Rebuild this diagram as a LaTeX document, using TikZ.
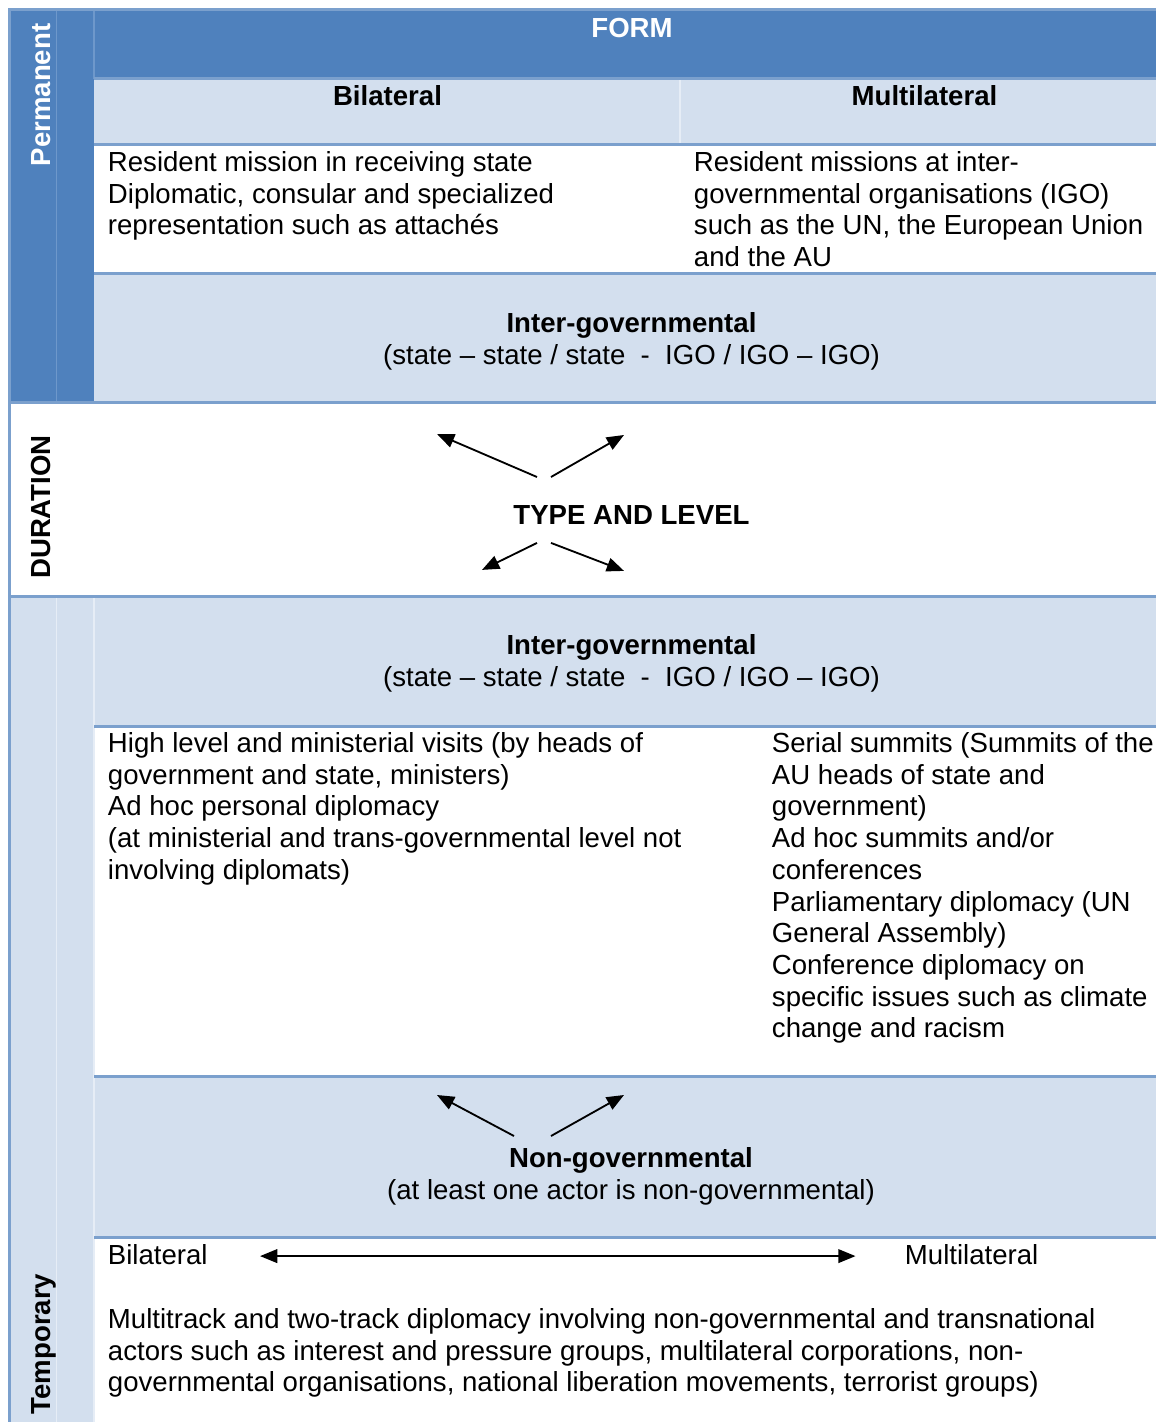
\documentclass[tikz,border=0pt]{standalone}
\usepackage{fontspec}
\setmainfont{Liberation Sans}
\usepackage{xcolor}
\usetikzlibrary{arrows.meta}

\definecolor{hdblue}{HTML}{4F81BD}
\definecolor{rowblue}{HTML}{D3DFEE}
\definecolor{rulblue}{HTML}{7BA0CD}
\definecolor{sepdark}{HTML}{6E98CB}
\definecolor{seplight}{HTML}{E6EDF6}

\tikzset{
  txt/.style={inner sep=0pt, font=\fontsize{12}{13.8}\selectfont, align=left, anchor=north west},
  ctr/.style={inner sep=0pt, font=\fontsize{12}{13.8}\selectfont, align=center, anchor=north},
  side/.style={inner sep=0pt, font=\fontsize{12}{13.8}\selectfont\bfseries, rotate=90, anchor=base},
  rule/.style={draw=rulblue, line width=1.3pt},
}

\begin{document}
\begin{tikzpicture}[x=0.435pt, y=-0.435pt, >={Triangle[length=7.5pt,width=6pt]}]
  \useasboundingbox (0,0) rectangle (1156,1422);

  % cells
  \fill[hdblue] (9.5,9.5) rectangle (94,402.5);
  \fill[hdblue] (94,9.5) rectangle (1156,78.5);
  \fill[rowblue] (94,78.5) rectangle (1156,144.5);
  \fill[rowblue] (94,273.5) rectangle (1156,402.5);
  \fill[rowblue] (9.5,596) rectangle (94,1422);
  \fill[rowblue] (94,596) rectangle (1156,726);
  \fill[rowblue] (94,1076.5) rectangle (1156,1237);

  \draw[sepdark, line width=.45pt] (56.5,9.5) -- (56.5,402.5);
  \draw[sepdark, line width=.45pt] (94,9.5) -- (94,78.5);
  \draw[seplight, line width=.45pt] (680,78.5) -- (680,144.5);
  \draw[seplight, line width=.45pt] (56.5,596) -- (56.5,1422);
  \draw[seplight, line width=.45pt] (94,596) -- (94,1422);

  \draw[rule] (8,9.5) -- (1156,9.5);
  \draw[rule] (9.5,8) -- (9.5,1422);
  \draw[rule] (94,78.5) -- (1156,78.5);
  \draw[rule] (94,144.5) -- (1156,144.5);
  \draw[rule] (94,273.5) -- (1156,273.5);
  \draw[rule] (8,402.5) -- (1156,402.5);
  \draw[rule] (8,596) -- (1156,596);
  \draw[rule] (94,726) -- (1156,726);
  \draw[rule] (94,1076.5) -- (1156,1076.5);
  \draw[rule] (94,1237) -- (1156,1237);

  % side labels
  \node (pm) [side, text=white] at (51,95) {Permanent};
  \node (du) [side] at (51,507) {DURATION};
  \node (tp) [side] at (51,1344) {Temporary};

  % permanent part
  \node (fm) [ctr, text=white, font=\fontsize{12}{13.8}\selectfont\bfseries] at (632,17.5) {FORM};
  \node (bl) [ctr, font=\fontsize{12}{13.8}\selectfont\bfseries] at (387.5,85) {Bilateral};
  \node (ml) [ctr, font=\fontsize{12}{13.8}\selectfont\bfseries] at (924.5,85) {Multilateral};
  \node (rb) [txt] at (107.5,151) {Resident mission in receiving state\\
    Diplomatic, consular and specialized\\
    representation such as attachés};
  \node (rm) [txt] at (693.5,151) {Resident missions at inter-\\
    governmental organisations (IGO)\\
    such as the UN, the European Union\\
    and the AU};
  \node (pg) [ctr] at (631.5,312) {\textbf{Inter-governmental}\\
    (state – state / state \ - \ IGO / IGO – IGO)};

  \node (tl) [ctr, font=\fontsize{12}{13.8}\selectfont\bfseries] at (631.5,505) {TYPE AND LEVEL};

  % temporary part
  \node (tg) [ctr] at (631.5,634) {\textbf{Inter-governmental}\\
    (state – state / state \ - \ IGO / IGO – IGO)};
  \node (hb) [txt] at (107.5,732) {High level and ministerial visits (by heads of\\
    government and state, ministers)\\
    Ad hoc personal diplomacy\\
    (at ministerial and trans-governmental level not\\
    involving diplomats)};
  \node (hm) [txt] at (771.5,732) {Serial summits (Summits of the\\
    AU heads of state and\\
    government)\\
    Ad hoc summits and/or\\
    conferences\\
    Parliamentary diplomacy (UN\\
    General Assembly)\\
    Conference diplomacy on\\
    specific issues such as climate\\
    change and racism};
  \node (ng) [ctr] at (631,1147) {\textbf{Non-governmental}\\
    (at least one actor is non-governmental)};
  \node (bb) [txt] at (107.5,1244) {Bilateral};
  \node (bm) [txt] at (904.5,1244) {Multilateral};
  \node (mt) [txt] at (107.5,1308) {Multitrack and two-track diplomacy involving non-governmental and transnational\\
    actors such as interest and pressure groups, multilateral corporations, non-\\
    governmental organisations, national liberation movements, terrorist groups)};

  % arrows round TYPE AND LEVEL
  \path (node cs:name=tl,anchor=north) +(-94.5,-28) coordinate (tlna);
  \path (node cs:name=tl,anchor=north) +(-194.5,-71) coordinate (tlnb);
  \draw[->, line width=.8pt] (tlna) -- (tlnb);
  \path (node cs:name=tl,anchor=north) +(-80.5,-28) coordinate (tlnc);
  \path (node cs:name=tl,anchor=north) +(-7.5,-70) coordinate (tlnd);
  \draw[->, line width=.8pt] (tlnc) -- (tlnd);
  \path (node cs:name=tl,anchor=south) +(-94.5,18) coordinate (tlsa);
  \path (node cs:name=tl,anchor=south) +(-149.5,45) coordinate (tlsb);
  \draw[->, line width=.8pt] (tlsa) -- (tlsb);
  \path (node cs:name=tl,anchor=south) +(-80.5,18) coordinate (tlsc);
  \path (node cs:name=tl,anchor=south) +(-7.5,46) coordinate (tlsd);
  \draw[->, line width=.8pt] (tlsc) -- (tlsd);

  % arrows above Non-governmental
  \path (node cs:name=ng,anchor=north) +(-117,-11) coordinate (nga);
  \path (node cs:name=ng,anchor=north) +(-194,-52) coordinate (ngb);
  \draw[->, line width=.8pt] (nga) -- (ngb);
  \path (node cs:name=ng,anchor=north) +(-80,-11) coordinate (ngc);
  \path (node cs:name=ng,anchor=north) +(-7,-52) coordinate (ngd);
  \draw[->, line width=.8pt] (ngc) -- (ngd);

  % bilateral <-> multilateral
  \path (node cs:name=bb,anchor=east) +(52,1.5) coordinate (bbo);
  \path (node cs:name=bm,anchor=west) +(-49,1.5) coordinate (bmi);
  \draw[<->, line width=.65pt] (bbo) -- (bmi);
\end{tikzpicture}
\end{document}
